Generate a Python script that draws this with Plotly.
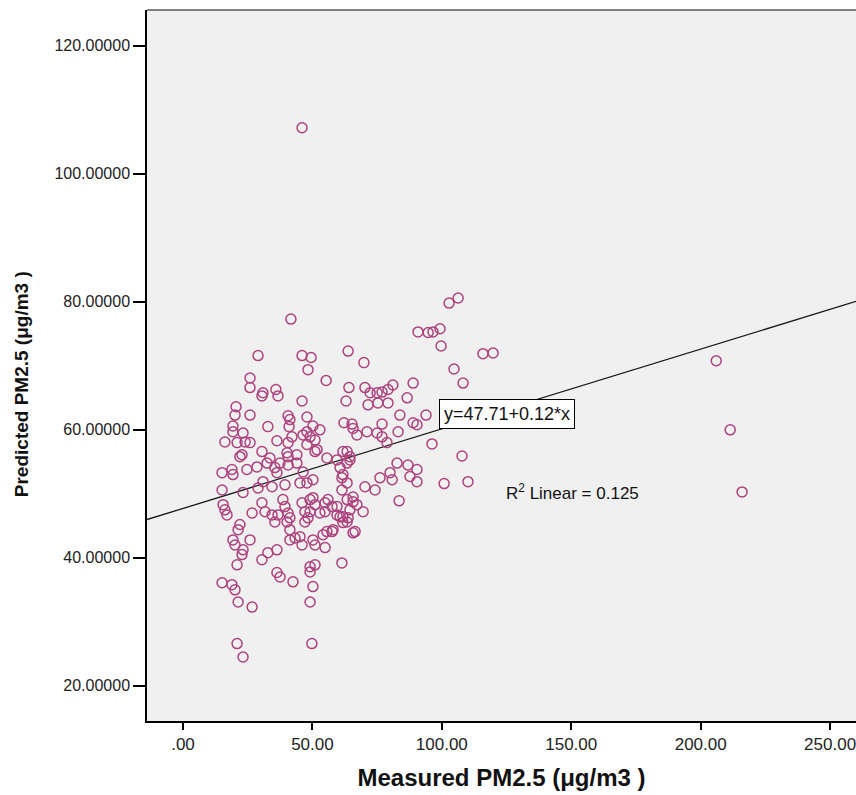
import plotly.graph_objects as go

# Measured PM2.5 (x) and Predicted PM2.5 (y)
measured = [46.0, 41.7, 206.0, 211.4, 216.0, 102.8, 106.3, 90.8, 94.7, 96.6, 99.3, 99.7, 115.9, 119.8,
            104.7, 108.2, 63.8, 69.9, 88.9, 55.3, 46.0, 49.5, 48.3, 29.0, 25.9, 25.9, 30.5, 30.9, 35.9,
            36.7, 46.0, 64.1, 63.0, 70.3, 72.3, 75.0, 76.9, 79.2, 81.1, 71.5, 75.3, 79.2, 86.6, 83.8,
            88.9, 90.4, 93.9, 62.2, 65.3, 65.7, 67.2, 71.1, 76.9, 75.0, 76.9, 78.8, 83.1, 96.2, 47.9,
            50.2, 52.9, 47.9, 49.1, 51.0, 63.4, 64.5, 107.8, 20.5, 20.1, 19.3, 19.3, 25.9, 32.8, 40.6,
            41.3, 41.0, 46.4, 42.1, 36.3, 16.2, 20.9, 24.0, 25.9, 23.2, 22.8, 30.5, 40.2, 44.0, 51.0,
            40.6, 47.9, 22.0, 33.6, 37.5, 40.6, 51.8, 55.6, 61.8, 15.1, 18.9, 19.3, 24.7, 28.6, 32.5,
            35.5, 36.3, 40.6, 44.0, 46.4, 60.7, 61.4, 63.4, 64.5, 15.1, 23.2, 29.0, 30.9, 34.4, 39.4,
            45.2, 47.9, 50.2, 65.7, 15.5, 16.2, 17.0, 26.7, 30.5, 31.7, 34.4, 38.6, 39.4, 36.7, 40.6,
            41.3, 46.0, 47.1, 49.1, 48.3, 50.2, 51.0, 52.9, 54.9, 56.0, 57.6, 59.5, 59.5, 61.8, 64.5,
            65.7, 67.2, 22.0, 21.3, 25.9, 20.1, 23.2, 22.8, 19.3, 35.5, 40.2, 41.3, 43.3, 45.2, 41.3,
            46.0, 50.2, 51.0, 54.1, 54.9, 57.6, 61.8, 63.8, 65.7, 30.5, 32.8, 36.3, 20.9, 36.3, 37.5,
            42.5, 49.1, 51.0, 49.1, 50.2, 49.1, 61.4, 15.1, 18.9, 20.1, 21.3, 26.7, 20.9, 23.2, 49.8,
            82.7, 86.9, 90.4, 80.0, 76.1, 80.8, 87.7, 90.4, 74.2, 70.3, 83.5, 69.6, 63.4, 100.9, 110.1,
            63.4, 59.5, 61.8, 61.4, 60.7, 63.4, 66.5, 58.0, 55.6, 54.9, 49.1, 47.1]
predicted = [107.2, 77.3, 70.8, 60.0, 50.3, 79.8, 80.6, 75.3, 75.2, 75.3, 75.8, 73.1, 71.9, 72.0,
             69.5, 67.3, 72.3, 70.5, 67.3, 67.7, 71.6, 71.3, 69.4, 71.6, 68.1, 66.6, 65.3, 65.8, 66.3,
             65.3, 64.5, 66.6, 64.5, 66.6, 65.8, 65.8, 65.9, 66.3, 67.0, 63.9, 64.2, 64.2, 65.0, 62.3,
             61.1, 60.8, 62.3, 61.1, 60.9, 60.2, 59.2, 59.7, 60.9, 59.5, 58.9, 58.0, 59.7, 57.8, 62.0,
             60.6, 60.0, 59.7, 58.9, 58.4, 56.6, 55.8, 55.9, 63.6, 62.3, 60.6, 59.7, 62.3, 60.5, 62.2,
             61.6, 60.5, 59.2, 58.9, 58.3, 58.1, 58.0, 58.1, 58.0, 59.5, 56.1, 56.6, 56.4, 56.1, 56.6,
             58.0, 57.7, 55.8, 55.6, 54.8, 55.8, 56.9, 55.6, 56.6, 53.3, 53.8, 53.0, 53.8, 54.2, 54.8,
             54.1, 53.3, 54.5, 54.8, 53.4, 54.1, 52.5, 51.7, 55.3, 50.6, 50.2, 50.9, 51.9, 51.1, 51.4,
             51.7, 51.7, 52.2, 49.5, 48.3, 47.5, 46.7, 47.0, 48.6, 47.2, 46.7, 49.1, 48.0, 46.7, 47.0,
             46.25, 48.6, 47.2, 47.2, 46.25, 49.4, 48.3, 47.0, 47.2, 49.1, 48.0, 48.0, 46.7, 46.4, 47.5,
             48.75, 48.3, 45.2, 44.4, 42.8, 42.0, 41.25, 40.5, 42.8, 45.6, 45.6, 44.4, 43.1, 43.3, 42.8,
             42.0, 42.8, 42.0, 43.6, 41.6, 44.1, 45.5, 46.25, 43.9, 39.7, 40.8, 41.25, 38.9, 37.7, 37.0,
             36.25, 38.6, 38.9, 37.8, 35.5, 33.1, 39.2, 36.1, 35.8, 35.0, 33.1, 32.3, 26.6, 24.5, 26.6,
             54.8, 54.5, 53.8, 53.3, 52.5, 52.2, 52.7, 51.9, 50.6, 51.1, 48.9, 47.2, 49.1, 51.6, 51.9,
             54.8, 55.3, 53.0, 50.6, 46.4, 45.6, 44.1, 44.4, 44.1, 48.6, 49.1, 45.6]

# Linear fit shown on the chart
fit_intercept = 47.71
fit_slope = 0.1245
r_squared = 0.125

x_ticks = [0, 50, 100, 150, 200, 250]
x_ticktext = [".00", "50.00", "100.00", "150.00", "200.00", "250.00"]
y_ticks = [20, 40, 60, 80, 100, 120]
y_ticktext = ["20.00000", "40.00000", "60.00000", "80.00000", "100.00000", "120.00000"]

x_range = [-13.9, 260.0]
y_range = [14.5, 125.6]

FONT = "Liberation Sans, Arial, sans-serif"

fig = go.Figure()

fit_x = [x_range[0], x_range[1]]
fit_y = [fit_intercept + fit_slope * v for v in fit_x]
fig.add_trace(go.Scatter(x=fit_x, y=fit_y, mode="lines",
                         line=dict(color="#1a1a1a", width=1.3),
                         hoverinfo="skip", showlegend=False))

fig.add_trace(go.Scatter(x=measured, y=predicted, mode="markers",
                         marker=dict(symbol="circle-open", size=10, color="#ad437e",
                                     line=dict(width=1.5, color="#ad437e")),
                         showlegend=False))

fig.add_annotation(x=125.2, y=62.5, xref="x", yref="y",
                   text=f"y={fit_intercept:.2f}+{fit_slope:.2f}*x",
                   showarrow=False, bgcolor="white", bordercolor="black", borderwidth=1,
                   borderpad=4, font=dict(family=FONT, size=18, color="#111"))
fig.add_annotation(x=150.3, y=50.3, xref="x", yref="y",
                   text=f"R<sup>2</sup> Linear = {r_squared:.3f}",
                   showarrow=False, font=dict(family=FONT, size=17, color="#111"))

# y-axis title (sits slightly below the axis centre in the original)
fig.add_annotation(x=-0.176, y=0.474, xref="paper", yref="paper",
                   text="Predicted PM2.5 (μg/m3 )", textangle=-90, showarrow=False,
                   xanchor="center", yanchor="middle",
                   font=dict(family=FONT, size=19, color="#111", weight="bold"))

fig.add_shape(type="line", xref="paper", yref="paper", x0=0, x1=1, y0=1, y1=1,
              line=dict(color="#808080", width=2))

fig.update_layout(
    width=856, height=795,
    margin=dict(l=147, r=0, t=10, b=74),
    paper_bgcolor="white", plot_bgcolor="#f0f0f0",
    font=dict(family=FONT, color="#222"),
    xaxis=dict(range=x_range, tickvals=x_ticks, ticktext=x_ticktext,
               showgrid=False, zeroline=False, showline=True, linecolor="black", linewidth=1.5,
               ticks="outside", ticklen=7, tickcolor="black", tickwidth=1.5,
               ticklabeloverflow="allow",
               tickfont=dict(family=FONT, size=17, color="#222"),
               title=dict(text="Measured PM2.5 (μg/m3 )", standoff=16,
                          font=dict(family=FONT, size=24, color="#111", weight="bold"))),
    yaxis=dict(range=y_range, tickvals=y_ticks, ticktext=y_ticktext,
               showgrid=False, zeroline=False, showline=True, linecolor="black", linewidth=1.5,
               ticks="outside", ticklen=12, tickcolor="black", tickwidth=1.5,
               tickfont=dict(family=FONT, size=16, color="#222")),
)

fig.write_html("out.html")
